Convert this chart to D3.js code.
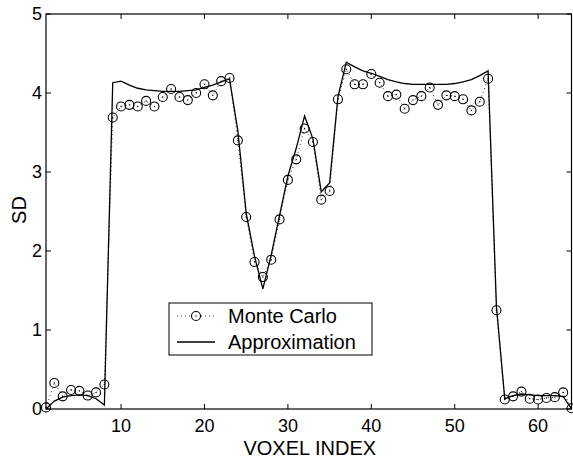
<!DOCTYPE html>
<html>
<head>
<meta charset="utf-8">
<script src="https://cdn.jsdelivr.net/npm/d3@7"></script>
<style>
  body { margin: 0; background: #fff; }
  text { font-family: "Liberation Sans", Arial, Helvetica, sans-serif; fill: #000; }
</style>
</head>
<body>
<div id="chart"></div>
<script>
// Voxel index 1..64
const voxels = d3.range(1, 65);

// Monte Carlo SD (circles, dotted line)
const monteCarlo = [
  0.02, 0.33, 0.16, 0.24, 0.23, 0.17, 0.21, 0.31, 3.69, 3.83,
  3.85, 3.83, 3.90, 3.83, 3.95, 4.05, 3.95, 3.91, 4.00, 4.11,
  3.97, 4.15, 4.19, 3.40, 2.43, 1.86, 1.67, 1.89, 2.40, 2.90,
  3.16, 3.55, 3.38, 2.65, 2.76, 3.92, 4.30, 4.11, 4.11, 4.24,
  4.13, 3.96, 3.98, 3.80, 3.91, 3.96, 4.07, 3.85, 3.97, 3.96,
  3.92, 3.78, 3.89, 4.18, 1.25, 0.12, 0.16, 0.22, 0.13, 0.12,
  0.14, 0.15, 0.21, 0.01
];

// Approximation SD (solid line)
const approximation = [
  0.00, 0.10, 0.15, 0.17, 0.18, 0.17, 0.13, 0.05, 4.13, 4.15,
  4.10, 4.06, 4.04, 4.03, 4.02, 4.02, 4.02, 4.03, 4.04, 4.07,
  4.10, 4.14, 4.18, 3.52, 2.48, 1.93, 1.52, 1.95, 2.45, 2.95,
  3.30, 3.71, 3.42, 2.75, 2.86, 3.95, 4.39, 4.33, 4.28, 4.25,
  4.21, 4.17, 4.14, 4.12, 4.11, 4.11, 4.11, 4.11, 4.11, 4.12,
  4.14, 4.17, 4.22, 4.28, 1.30, 0.13, 0.17, 0.19, 0.18, 0.17,
  0.17, 0.17, 0.16, 0.00
];

const xTicks = [10, 20, 30, 40, 50, 60];
const yTicks = [0, 1, 2, 3, 4, 5];
const legendLabels = ["Monte Carlo", "Approximation"];

const width = 573, height = 460;
const margin = { top: 14, right: 1.5, bottom: 51, left: 46 };

const svg = d3.select("#chart")
  .append("svg")
  .attr("width", width)
  .attr("height", height);

const x = d3.scaleLinear()
  .domain([1, 64])
  .range([margin.left, width - margin.right]);

const y = d3.scaleLinear()
  .domain([0, 5])
  .range([height - margin.bottom, margin.top]);

const x0 = x.range()[0], x1 = x.range()[1];
const y0 = y.range()[0], y1 = y.range()[1];

// Frame box
svg.append("rect")
  .attr("x", x0)
  .attr("y", y1)
  .attr("width", x1 - x0)
  .attr("height", y0 - y1)
  .attr("fill", "none")
  .attr("stroke", "#000")
  .attr("stroke-width", 1.2);

// Inward ticks on all four sides
const tickLen = 5;
xTicks.forEach(t => {
  svg.append("line")
    .attr("x1", x(t)).attr("x2", x(t))
    .attr("y1", y0).attr("y2", y0 - tickLen)
    .attr("stroke", "#000").attr("stroke-width", 1);
  svg.append("line")
    .attr("x1", x(t)).attr("x2", x(t))
    .attr("y1", y1).attr("y2", y1 + tickLen)
    .attr("stroke", "#000").attr("stroke-width", 1);
  svg.append("text")
    .attr("x", x(t))
    .attr("y", y0 + 23)
    .attr("text-anchor", "middle")
    .style("font-size", "18px")
    .text(t);
});

yTicks.forEach(t => {
  svg.append("line")
    .attr("x1", x0).attr("x2", x0 + tickLen)
    .attr("y1", y(t)).attr("y2", y(t))
    .attr("stroke", "#000").attr("stroke-width", 1);
  svg.append("line")
    .attr("x1", x1).attr("x2", x1 - tickLen)
    .attr("y1", y(t)).attr("y2", y(t))
    .attr("stroke", "#000").attr("stroke-width", 1);
  svg.append("text")
    .attr("x", x0 - 4)
    .attr("y", y(t))
    .attr("dy", "0.36em")
    .attr("text-anchor", "end")
    .style("font-size", "18px")
    .text(t);
});

// Axis labels
svg.append("text")
  .attr("x", (x0 + x1) / 2 + 1)
  .attr("y", 455)
  .attr("text-anchor", "middle")
  .style("font-size", "20px")
  .text("VOXEL INDEX");

svg.append("text")
  .attr("transform", "rotate(-90)")
  .attr("x", -210)
  .attr("y", 26)
  .attr("text-anchor", "middle")
  .style("font-size", "20px")
  .text("SD");

// Monte Carlo dotted line
const line = d3.line()
  .x((d, i) => x(voxels[i]))
  .y(d => y(d));

svg.append("path")
  .datum(monteCarlo)
  .attr("d", line)
  .attr("fill", "none")
  .attr("stroke", "#333")
  .attr("stroke-width", 1)
  .attr("stroke-dasharray", "1,3");

// Approximation solid line
svg.append("path")
  .datum(approximation)
  .attr("d", line)
  .attr("fill", "none")
  .attr("stroke", "#000")
  .attr("stroke-width", 1.3);

// Monte Carlo markers
const markers = svg.append("g");
monteCarlo.forEach((v, i) => {
  markers.append("circle")
    .attr("cx", x(voxels[i]))
    .attr("cy", y(v))
    .attr("r", 4.5)
    .attr("fill", "none")
    .attr("stroke", "#000")
    .attr("stroke-width", 1.1);
  markers.append("circle")
    .attr("cx", x(voxels[i]))
    .attr("cy", y(v))
    .attr("r", 0.7)
    .attr("fill", "#000");
});

// Legend
const legend = svg.append("g").attr("transform", "translate(169, 303)");
legend.append("rect")
  .attr("width", 203)
  .attr("height", 52)
  .attr("fill", "#fff")
  .attr("stroke", "#000")
  .attr("stroke-width", 1);

legendLabels.forEach((label, i) => {
  const ly = 13 + i * 26;
  const sample = legend.append("line")
    .attr("x1", 8).attr("x2", 46)
    .attr("y1", ly).attr("y2", ly)
    .attr("fill", "none");
  if (i === 0) {
    sample.attr("stroke", "#333").attr("stroke-width", 1).attr("stroke-dasharray", "1,3");
    legend.append("circle")
      .attr("cx", 27).attr("cy", ly).attr("r", 4.5)
      .attr("fill", "#fff").attr("stroke", "#000").attr("stroke-width", 1.1);
    legend.append("circle")
      .attr("cx", 27).attr("cy", ly).attr("r", 0.7).attr("fill", "#000");
  } else {
    sample.attr("stroke", "#000").attr("stroke-width", 1.3);
  }
  legend.append("text")
    .attr("x", 59)
    .attr("y", ly)
    .attr("dy", "0.36em")
    .style("font-size", "20px")
    .text(label);
});
</script>
</body>
</html>
